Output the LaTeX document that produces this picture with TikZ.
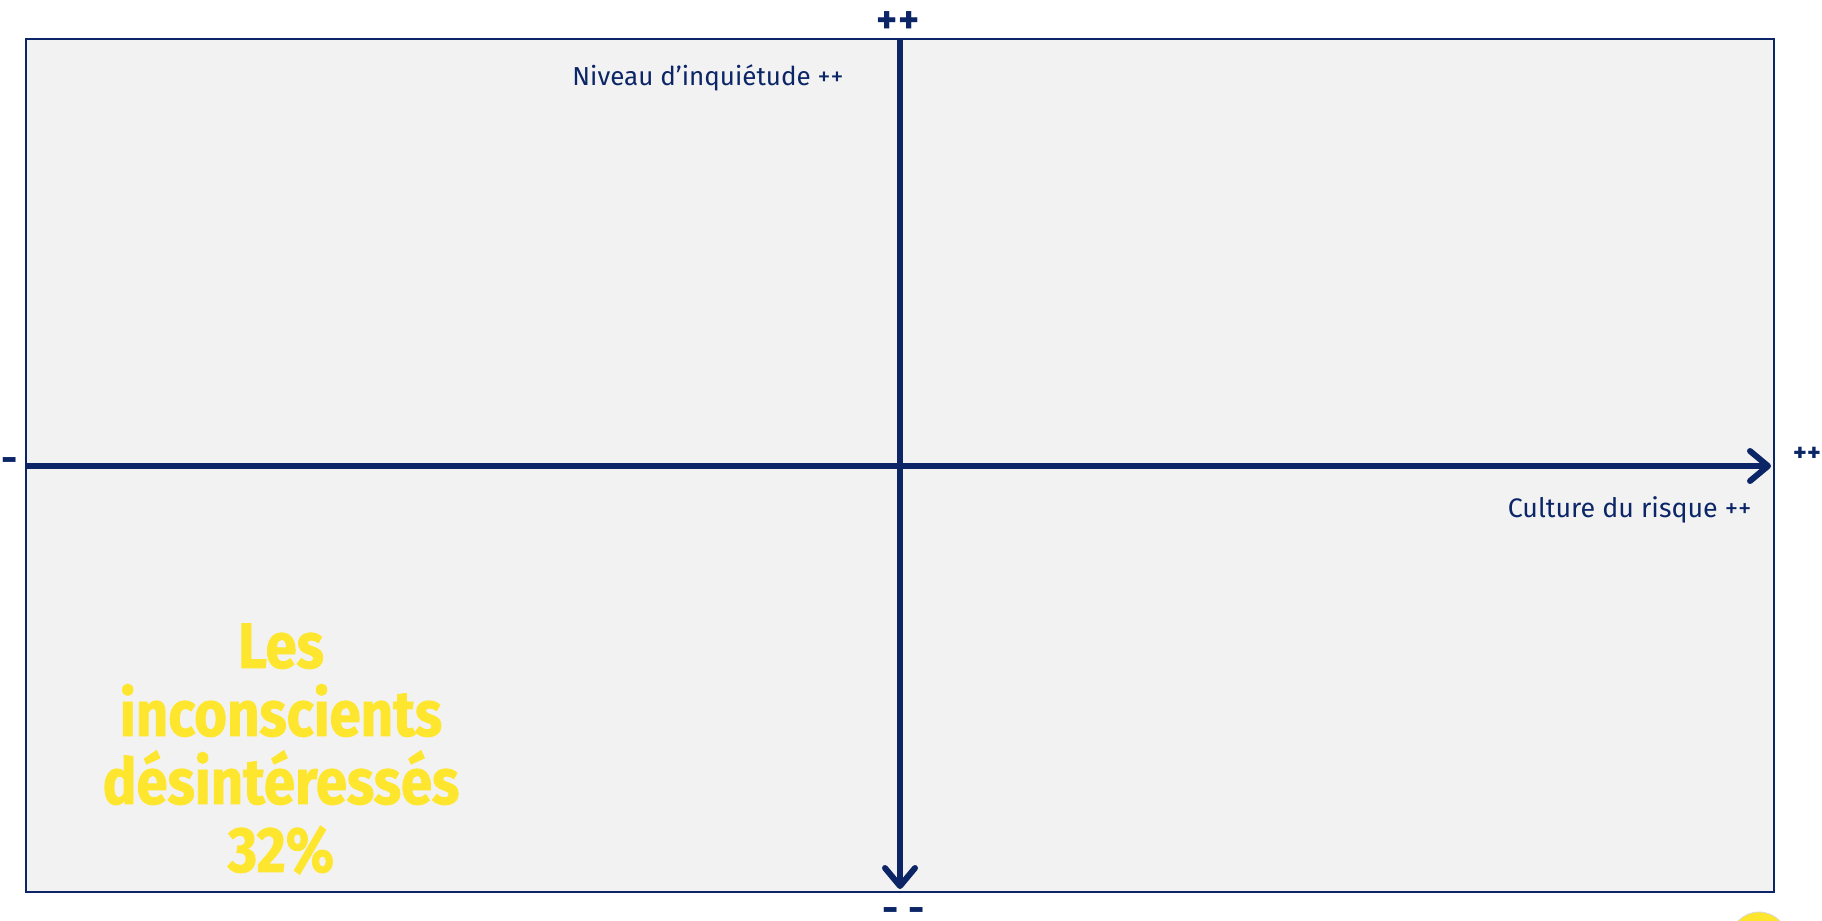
\documentclass[tikz,border=0pt]{standalone}
\usepackage{fontspec}
\setmainfont{Fira Sans}
\newfontfamily\heavyfont[FakeStretch=0.88, BoldFeatures={FakeBold=1.3}]{Fira Sans}
\usetikzlibrary{arrows.meta, positioning}
\definecolor{navy}{HTML}{0B2566}
\definecolor{sunny}{HTML}{FFE62E}
\definecolor{panel}{HTML}{F2F2F2}
\tikzstyle{frame} = [draw=navy, line width=1.4pt, fill=panel]
\tikzstyle{axis} = [draw=navy, line width=3pt,
  -{Straight Barb[length=9pt, width=15pt, line width=3pt, line cap=round, line join=round]}]
\tikzstyle{tick} = [text=navy, font=\bfseries\fontsize{20}{20}\selectfont, inner sep=0pt]
\tikzstyle{axislabel} = [text=navy, inner sep=0pt, anchor=base east]
\tikzstyle{group} = [text=sunny, font=\heavyfont\bfseries\fontsize{32}{34}\selectfont,
  align=center, inner sep=0pt]

\begin{document}
\begin{tikzpicture}[x=0.5pt, y=-0.5pt]
    \useasboundingbox (0,0) rectangle (1822,921);
    \fill[white] (0,0) rectangle (1822,921);
    % quadrant panel
    \draw[frame] (26,39) rectangle (1774,892);
    \coordinate (left) at (26,466);
    \coordinate (right) at (1771,466);
    \coordinate (top) at (900,39);
    \coordinate (bottom) at (900,889);
    \draw[axis] (left) -- (right);
    \draw[axis] (top) -- (bottom);
    % ends of the axes
    \node[tick] (ytop) at (898,23) {++};
    \node[tick] (xleft) at (10,465) {-};
    \node[tick, font=\bfseries\fontsize{13}{13}\selectfont] (xright) at (1807,454) {++};
    \node[tick] (ybottom) at (904,915) {- -};
    \node[axislabel, font=\fontsize{13}{15}\selectfont] (ylabel) at (844,85) {Niveau d’inquiétude ++};
    \node[axislabel, font=\fontsize{13.4}{16}\selectfont] (xlabel) at (1752,517) {Culture du risque ++};
    \node[group] (unaware) at (281,749) {Les\\inconscients\\désintéressés\\32\%};
    \fill[sunny, draw=black!15] (1759,941) circle (29);
  \end{tikzpicture}
\end{document}
